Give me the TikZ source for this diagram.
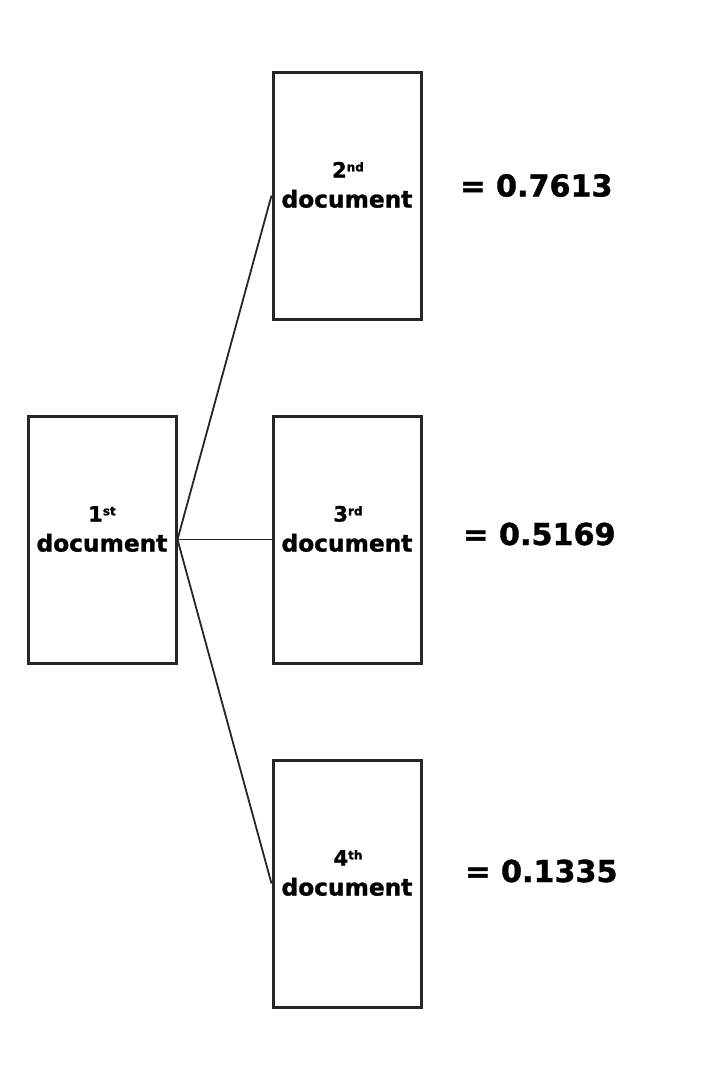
\documentclass[tikz,border=0pt]{standalone}
\usepackage{fontspec}
\setmainfont{DejaVu Sans}[BoldFeatures={FakeBold=1.3}]
\begin{document}
\begin{tikzpicture}[x=1pt,y=-1pt,
  docbox/.style={draw=boxcol, line width=3pt, rectangle, minimum width=148pt, minimum height=247pt, inner sep=0pt},
  conn/.style={draw=boxcol, line width=1.8pt},
  hconn/.style={draw=boxcol, line width=1pt},
  ordtxt/.style={anchor=base, inner sep=0pt, font=\bfseries\fontsize{21}{21}\selectfont},
  doctxt/.style={anchor=base, inner sep=0pt, font=\bfseries\fontsize{23.3}{23.3}\selectfont},
  valtxt/.style={anchor=base west, inner sep=0pt, font=\bfseries\fontsize{30.2}{30.2}\selectfont}]
\definecolor{boxcol}{HTML}{262626}
\newcommand{\ordsup}[1]{\raisebox{6.2pt}{\fontsize{12}{12}\selectfont #1}}
\fill[white] (0,0) rectangle (720,1080);
\useasboundingbox (0,0) rectangle (720,1080);
% boxes
\node[docbox] (b1) at (102,539.5) {};
\node[docbox] (b2) at (347,195.5) {};
\node[docbox] (b3) at (347,539.5) {};
\node[docbox] (b4) at (347,883.5) {};
% labels
\node[ordtxt] (o1) at (102,521.5) {1\ordsup{st}};
\node[doctxt] (d1) at (102,551.5) {document};
\node[ordtxt] (o2) at (348,177.5) {2\ordsup{nd}};
\node[doctxt] (d2) at (347,207.5) {document};
\node[ordtxt] (o3) at (348,521.5) {3\ordsup{rd}};
\node[doctxt] (d3) at (347,551.5) {document};
\node[ordtxt] (o4) at (348,865.5) {4\ordsup{th}};
\node[doctxt] (d4) at (347,895.5) {document};
% values
\node[valtxt] (v2) at (460,196.5) {= 0.7613};
\node[valtxt] (v3) at (463,545) {= 0.5169};
\node[valtxt] (v4) at (465,882) {= 0.1335};
% connectors
\draw[conn] (b1.east) -- (b2.west);
\draw[hconn] (b1.east) -- (b3.west);
\draw[conn] (b1.east) -- (b4.west);
\end{tikzpicture}
\end{document}
